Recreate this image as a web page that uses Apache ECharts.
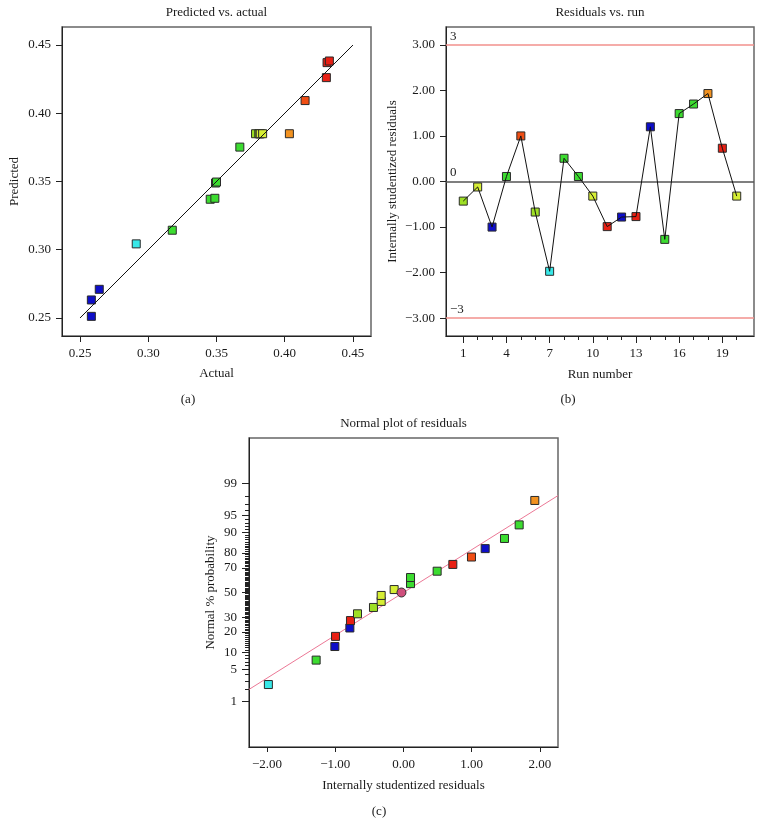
<!DOCTYPE html>
<html><head><meta charset="utf-8">
<script src="https://cdn.jsdelivr.net/npm/echarts@6/dist/echarts.min.js"></script>
<style>html,body{margin:0;padding:0;background:#fff}#c{width:763px;height:838px}</style>
</head><body><div id="c"></div>
<script>
// ---- Panel (a): Predicted vs. actual ----
const actualVals    = [0.2583,0.2583,0.2641,0.2912,0.3176,0.3454,0.3488,0.3493,0.3500,0.3671,0.3786,0.3810,0.3820,0.3820,0.3838,0.4034,0.4149,0.4305,0.4310,0.4327];
const predictedVals = [0.2512,0.2632,0.2710,0.3043,0.3143,0.3370,0.3377,0.3489,0.3496,0.3752,0.3850,0.3850,0.3850,0.3850,0.3850,0.3850,0.4093,0.4261,0.4371,0.4383];
const predictedGroups = ['b','b','b','c','g','g','g','g','g','g','yg','yg','y','y','y','o','ro','r','r','r'];
const fitLine = [0.25, 0.45];
const axisATicks = [0.25,0.30,0.35,0.40,0.45];

// ---- Panel (b): Residuals vs. run ----
const runNumbers   = [1,2,3,4,5,6,7,8,9,10,11,12,13,14,15,16,17,18,19,20];
const runResiduals = [-0.43,-0.12,-1.00,0.11,1.00,-0.67,-1.97,0.51,0.11,-0.32,-0.99,-0.78,-0.77,1.20,-1.27,1.49,1.70,1.93,0.73,-0.32];
const runGroups    = ['yg','y','b','g','ro','yg','c','g','g','y','r','b','r','b','g','g','g','o','r','y'];
const runTickLabels = [1,4,7,10,13,16,19];
const residTicks = [-3,-2,-1,0,1,2,3];
const limitLines = [3, 0, -3];

// ---- Panel (c): Normal plot of residuals ----
const normalResiduals = [-1.98,-1.28,-1.006,-0.996,-0.786,-0.777,-0.674,-0.44,-0.327,-0.327,-0.137,0.103,0.103,0.493,0.723,0.996,1.197,1.48,1.695,1.924];
const normalPercents  = [2.5,7.5,12.5,17.5,22.5,27.5,32.5,37.5,42.5,47.5,52.5,57.5,62.5,67.5,72.5,77.5,82.5,87.5,92.5,97.5];
const normalGroups    = ['c','g','b','r','b','r','yg','yg','y','y','y','g','g','g','r','ro','b','g','g','o'];
const normalLineResid = [-2.264, 2.264];
const normalLinePct   = [1.95, 98.05];
const meanPoint = [-0.03, 50];
const probTickLabels = [1,5,10,20,30,50,70,80,90,95,99];
const residTicksC = [-2,-1,0,1,2];

const palette = {b:'#0e0ec8', c:'#38e8e8', g:'#3cdc30', yg:'#9ee024', y:'#d6ee34', o:'#f29220', ro:'#f04e14', r:'#e82014'};
const FONT = '"Liberation Serif","DejaVu Serif",serif';
const TXT = '#1a1a1a';

function probit(p){
  const a=[-3.969683028665376e+01,2.209460984245205e+02,-2.759285104469687e+02,1.383577518672690e+02,-3.066479806614716e+01,2.506628277459239e+00];
  const b=[-5.447609879822406e+01,1.615858368580409e+02,-1.556989798598866e+02,6.680131188771972e+01,-1.328068155288572e+01];
  const c=[-7.784894002430293e-03,-3.223964580411365e-01,-2.400758277161838e+00,-2.549671010229528e+00,4.374664141464968e+00,2.938163982698783e+00];
  const d=[7.784695709041462e-03,3.224671290700398e-01,2.445134137142996e+00,3.754408661907416e+00];
  const pl=0.02425, ph=1-pl; let q,r;
  if(p<pl){q=Math.sqrt(-2*Math.log(p));return (((((c[0]*q+c[1])*q+c[2])*q+c[3])*q+c[4])*q+c[5])/((((d[0]*q+d[1])*q+d[2])*q+d[3])*q+1);}
  if(p<=ph){q=p-0.5;r=q*q;return (((((a[0]*r+a[1])*r+a[2])*r+a[3])*r+a[4])*r+a[5])*q/(((((b[0]*r+b[1])*r+b[2])*r+b[3])*r+b[4])*r+1);}
  q=Math.sqrt(-2*Math.log(1-p));return -(((((c[0]*q+c[1])*q+c[2])*q+c[3])*q+c[4])*q+c[5])/((((d[0]*q+d[1])*q+d[2])*q+d[3])*q+1);
}
const z = pct => probit(pct/100);
const minorPct = Array.from({length:99},(_,i)=>i+1);
const fmtNeg = (v,dig) => (v<0?'\u2212':'') + Math.abs(v).toFixed(dig);

const lbl = {fontFamily:FONT, fontSize:13, color:TXT};
const nameStyle = {fontFamily:FONT, fontSize:13, color:TXT};
const axLine = {show:true, onZero:false, lineStyle:{color:'#222', width:1}};
const noLine = {show:false, onZero:false};

function marker(group){
  return {color: palette[group], borderColor:'#2a2a2a', borderWidth:1, opacity:1};
}

const option = {
  animation:false,
  backgroundColor:'#fff',
  grid:[
    {left:62, top:27, width:309, height:309, show:true, borderColor:'#666', borderWidth:1.5, backgroundColor:'transparent'},
    {left:446, top:27, width:308, height:309, show:true, borderColor:'#666', borderWidth:1.5, backgroundColor:'transparent'},
    {left:249, top:438, width:309, height:309, show:true, borderColor:'#666', borderWidth:1.5, backgroundColor:'transparent'}
  ],
  xAxis:[
    {gridIndex:0, type:'value', position:'bottom', min:0.2368, max:0.4632, splitLine:{show:false}, axisLine:axLine,
     axisTick:{show:true, length:6, customValues:axisATicks, lineStyle:{color:'#222'}},
     axisLabel:{...lbl, margin:11, customValues:axisATicks, formatter:v=>v.toFixed(2)},
     name:'Actual', nameLocation:'middle', nameGap:31, nameTextStyle:nameStyle},
    {gridIndex:1, type:'value', position:'bottom', min:-0.2, max:21.2, splitLine:{show:false}, axisLine:axLine,
     axisTick:{show:true, length:7, customValues:runTickLabels, lineStyle:{color:'#222'}},
     axisLabel:{...lbl, margin:11, customValues:runTickLabels, formatter:v=>String(v)},
     name:'Run number', nameLocation:'middle', nameGap:32, nameTextStyle:nameStyle},
    {gridIndex:1, type:'value', position:'bottom', min:-0.2, max:21.2, splitLine:{show:false}, axisLine:noLine,
     axisTick:{show:true, length:4, customValues:runNumbers, lineStyle:{color:'#222'}},
     axisLabel:{show:false}},
    {gridIndex:2, type:'value', position:'bottom', min:-2.264, max:2.264, splitLine:{show:false}, axisLine:axLine,
     axisTick:{show:true, length:5, customValues:residTicksC, lineStyle:{color:'#222'}},
     axisLabel:{...lbl, margin:11, customValues:residTicksC, formatter:v=>fmtNeg(v,2)},
     name:'Internally studentized residuals', nameLocation:'middle', nameGap:32, nameTextStyle:nameStyle}
  ],
  yAxis:[
    {gridIndex:0, type:'value', position:'left', min:0.2368, max:0.4632, splitLine:{show:false}, axisLine:axLine,
     axisTick:{show:true, length:6, customValues:axisATicks, lineStyle:{color:'#222'}},
     axisLabel:{...lbl, margin:11, customValues:axisATicks, formatter:v=>v.toFixed(2)},
     name:'Predicted', nameLocation:'middle', nameGap:41, nameTextStyle:nameStyle},
    {gridIndex:1, type:'value', position:'left', min:-3.39, max:3.39, splitLine:{show:false}, axisLine:axLine,
     axisTick:{show:true, length:6, customValues:residTicks, lineStyle:{color:'#222'}},
     axisLabel:{...lbl, margin:11, customValues:residTicks, formatter:v=>fmtNeg(v,2)},
     name:'Internally studentized residuals', nameLocation:'middle', nameGap:47, nameTextStyle:nameStyle},
    {gridIndex:2, type:'value', position:'left', min:-3.29, max:3.29, splitLine:{show:false}, axisLine:axLine,
     axisTick:{show:true, length:7, customValues:probTickLabels.map(z), lineStyle:{color:'#222'}},
     axisLabel:{...lbl, margin:12, customValues:probTickLabels.map(z),
       formatter:v=>{let best=probTickLabels[0];probTickLabels.forEach(p=>{if(Math.abs(z(p)-v)<Math.abs(z(best)-v))best=p;});return String(best);}},
     name:'Normal % probability', nameLocation:'middle', nameGap:32, nameTextStyle:nameStyle},
    {gridIndex:2, type:'value', position:'left', min:-3.29, max:3.29, splitLine:{show:false}, axisLine:noLine,
     axisTick:{show:true, length:4, customValues:minorPct.map(z), lineStyle:{color:'#222'}},
     axisLabel:{show:false}}
  ],
  series:[
    {type:'scatter', xAxisIndex:0, yAxisIndex:0, symbol:'rect', symbolSize:8, z:2,
     data: actualVals.map((a,i)=>({value:[a, predictedVals[i]], itemStyle:marker(predictedGroups[i])}))},
    {type:'line', xAxisIndex:0, yAxisIndex:0, symbol:'none', z:5, silent:true,
     lineStyle:{color:'#111', width:1}, data: fitLine.map(v=>[v,v])},

    {type:'scatter', xAxisIndex:1, yAxisIndex:1, symbol:'rect', symbolSize:8, z:3,
     data: runNumbers.map((r,i)=>({value:[r, runResiduals[i]], itemStyle:marker(runGroups[i])}))},
    {type:'line', xAxisIndex:1, yAxisIndex:1, symbol:'none', z:5, silent:true,
     lineStyle:{color:'#111', width:1}, data: runNumbers.map((r,i)=>[r, runResiduals[i]]),
     markLine:{silent:true, symbol:['none','none'], z:1,
       data: limitLines.map(v=>({yAxis:v,
         lineStyle:{color: v===0 ? '#555' : '#f2908c', width: 1.5, type:'solid'},
         label:{show:true, position:'insideStartTop', distance:[4,2], formatter: v<0 ? '\u2212'+Math.abs(v) : String(v), fontFamily:FONT, fontSize:13, color:TXT}}))}},

    {type:'line', xAxisIndex:3, yAxisIndex:2, symbol:'none', z:2, silent:true,
     lineStyle:{color:'#ec7896', width:1}, data: normalLineResid.map((x,i)=>[x, z(normalLinePct[i])])},
    {type:'scatter', xAxisIndex:3, yAxisIndex:2, symbol:'rect', symbolSize:8, z:3,
     data: normalResiduals.map((x,i)=>({value:[x, z(normalPercents[i])], itemStyle:marker(normalGroups[i])}))},
    {type:'scatter', xAxisIndex:3, yAxisIndex:2, symbol:'circle', symbolSize:9, z:4,
     itemStyle:{color:'#cf4f7c', borderColor:'#333', borderWidth:1, opacity:1},
     data:[[meanPoint[0], z(meanPoint[1])]]}
  ],
  graphic:[
    {type:'text', x:216.5, y:13, style:{text:'Predicted vs. actual', font:'13px '+FONT, fill:TXT, align:'center', verticalAlign:'middle'}},
    {type:'text', x:600, y:13, style:{text:'Residuals vs. run', font:'13px '+FONT, fill:TXT, align:'center', verticalAlign:'middle'}},
    {type:'text', x:403.5, y:424, style:{text:'Normal plot of residuals', font:'13px '+FONT, fill:TXT, align:'center', verticalAlign:'middle'}},
    {type:'text', x:188, y:400, style:{text:'(a)', font:'13px '+FONT, fill:TXT, align:'center', verticalAlign:'middle'}},
    {type:'text', x:568, y:400, style:{text:'(b)', font:'13px '+FONT, fill:TXT, align:'center', verticalAlign:'middle'}},
    {type:'text', x:379, y:812, style:{text:'(c)', font:'13px '+FONT, fill:TXT, align:'center', verticalAlign:'middle'}}
  ]
};
const chart = echarts.init(document.getElementById('c'), null, {renderer:'canvas'});
chart.setOption(option);
</script></body></html>
